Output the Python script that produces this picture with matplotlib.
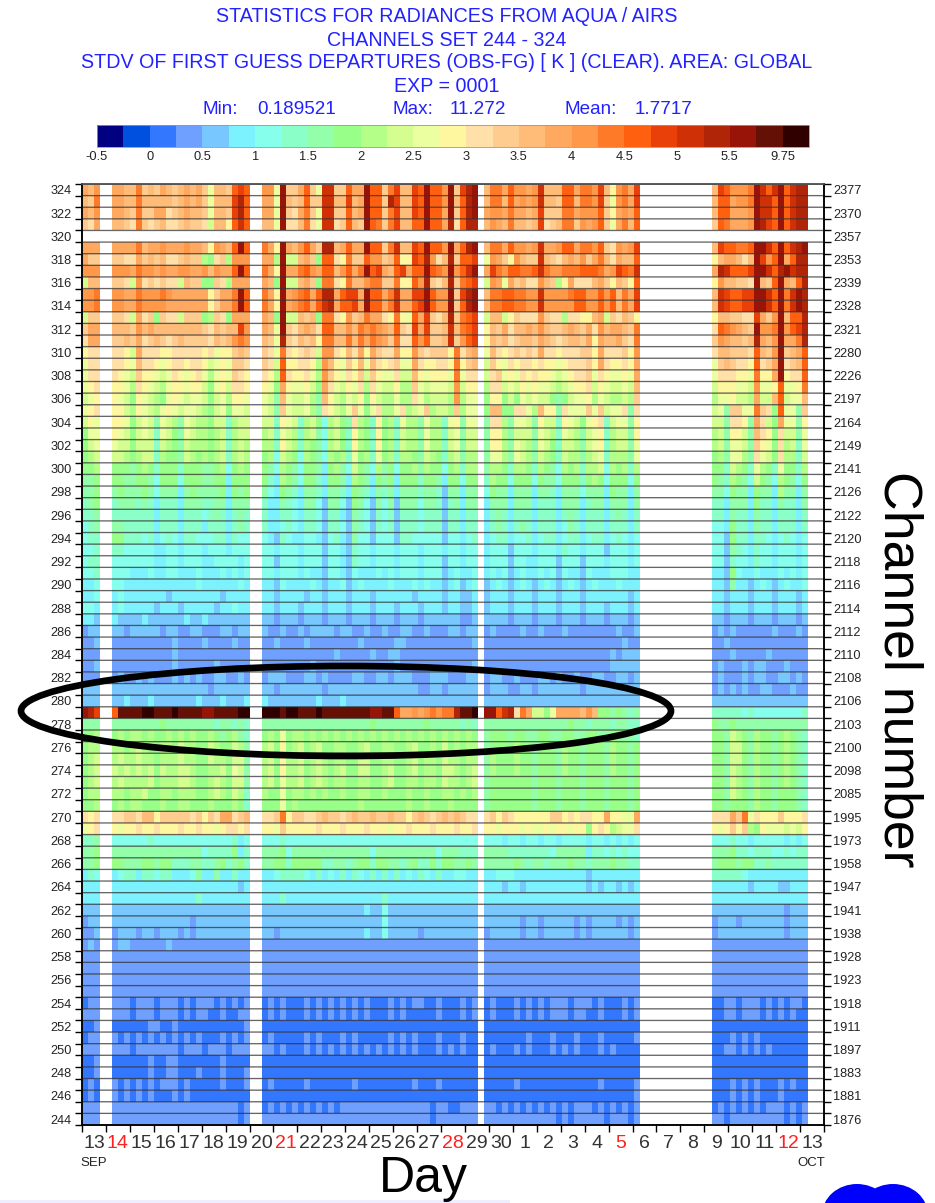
"""AIRS radiance statistics: STDV of first guess departures, channel vs time."""

import matplotlib

matplotlib.use("Agg")
import matplotlib.pyplot as plt
import numpy as np
from matplotlib.cm import ScalarMappable
from matplotlib.colors import BoundaryNorm, ListedColormap
from matplotlib.patches import Ellipse, Rectangle

plt.rcParams["font.family"] = ["Liberation Sans", "DejaVu Sans"]

TITLE_LINES = [
    "STATISTICS FOR RADIANCES FROM AQUA / AIRS",
    "CHANNELS SET 244 - 324",
    "STDV OF FIRST GUESS DEPARTURES (OBS-FG) [ K ] (CLEAR). AREA: GLOBAL",
    "EXP = 0001",
]
STATS = [("Min:", "0.189521"), ("Max:", "11.272"), ("Mean:", "1.7717")]

LEVEL_BOUNDS = [-0.5, -0.25, 0, 0.25, 0.5, 0.75, 1, 1.25, 1.5, 1.75, 2, 2.25, 2.5, 2.75,
                3, 3.25, 3.5, 3.75, 4, 4.25, 4.5, 4.75, 5, 5.25, 5.5, 5.75, 9.75, 12]
LEVEL_COLORS = ["#000080", "#0050e0", "#3377ff", "#70a0ff", "#78c8ff", "#7cf2ff", "#86ffec",
                "#8affc8", "#94ffaa", "#98ff88", "#b4ff88", "#d4ff90", "#ecffa0", "#fff6a0",
                "#ffe0a8", "#ffcc90", "#ffbc78", "#ffa860", "#ff9848", "#ff7a28", "#ff6010",
                "#e84008", "#d03005", "#b02408", "#981408", "#641005", "#300000"]
LEVEL_CODES = "0123456789abcdefghijklmnopq"
BAR_LABELS = ["-0.5", "0", "0.5", "1", "1.5", "2", "2.5", "3", "3.5", "4", "4.5", "5", "5.5", "9.75"]

DAY_LABELS = ["13", "14", "15", "16", "17", "18", "19", "20", "21", "22", "23", "24", "25", "26",
              "27", "28", "29", "30", "1", "2", "3", "4", "5", "6", "7", "8", "9", "10", "11",
              "12", "13"]
RED_DAYS = [1, 8, 15, 22, 29]

CHANNELS_LEFT = list(range(324, 243, -2))
WAVENUMBERS = [2377, 2370, 2357, 2353, 2339, 2328, 2321, 2280, 2226, 2197, 2164, 2149, 2141, 2126,
               2122, 2120, 2118, 2116, 2114, 2112, 2110, 2108, 2106, 2103, 2100, 2098, 2085, 1995,
               1973, 1958, 1947, 1941, 1938, 1928, 1923, 1918, 1911, 1897, 1883, 1881, 1876]

# одна строка на канал (324 -> 244), символ = класс цвета, "|" = пропуск в данных
ROWS_HIGH = [
    "hgi|hhggjfgfhgfghghfcggfklk|iicoffhkfcmmffkhhokkfjlgglkokkioflno|gjjhkiihimgggkkhjjilgdijhl|glkiiijomkmokmnn",
    "gfj|hhggjgggggfghghfcggglnk|hhcogfgkffmmgglghokkfnlgglkokkiogkno|gjjgkhihimggfkkgjjilfcijhl|gkkhiijommkokmnn",
    "hgi|hhgfjffhhefghggfcggflnk|hhcofehjfcmmffkghokkfjlgglkokkhofkno|hiihjhhghlfffjjhiiikfdhihk|gkkhhhiommkokmnn",
    "feh|ggfejfefgeefgffebggdkmk|ggcoeegjecmmefkgfokjfjlggkkokkhneknn|gihgjggfglefgjjfihikfchjgk|fkjhhhionlkokmnn",
    ".|.|.|.|.",
    "hhh|hhhhjghhihhhihhgdihgkok|jhdohgikhfnnghkhhokkfjmgglkokkiohkno|gjjhkiihimhhikkhjjikfeihil|glkkjjkoomkokmno",
    "hff|ffeehfgfgeefgffa9efaiii|hhaobbghf9kkedjffkiifgkddlkniegnfkkl|cihfdigffmgfeghgifhjgehggk|dghhgegolikohknn",
    "iii|iiihjiihihhiihhigihhkok|jhdohhjkihkkgikhjoklhgklhkkokjioikmo|hljikkjjkmjiijjjkkkjhilkjm|hnmkkkloomknomnn",
    "bgg|ffebiefefeebgff99feahhh|hg9obbghf9jjedjggijjffjddkinfegnfjkl|bihchfgeeigfadheeeghfdgfdk|diggffeogfkohgkn",
    "iij|iihhjiiijihhhhhhdfhhjok|jhdohijkhknnhkllhokkhjmhhllokiioflno|gjjkkjjiimiiiijkkiikikgjhl|gmlkklloomkojmon",
    "iij|iihhjiiiihhhhhhhdfhhjok|jhdohijkhkmnhkklhokkhjmhhklokiiofkno|gjjkkjjiimiiiiikkiikikgjhl|gmlkklloomkojmon",
    "bff|ffebhef9feebfff9afe9hhh|hg9obbgfg9jjedifgjhhedjdckhlfegnfjkl|bggbdfeeeifeeaeeddghbfegfd|dggffeelhfiogkkn",
    "fhh|gggfighggggggggfegfggli|hgcofeghgekkggigjijihgkfelhlffgmgjkl|dgfhegghgigffghgfheighhgfj|ekjihgfoiijoikln",
    "ehh|ffgfhefgfefgffffegfgiji|gfcnfegfgdjjggjgjhjihfjeekikffgmfikl|dgfgefggfhgfefggfhdhgghfej|fihggfgnhgiohhjn",
    "dee|eedbheeeddeeeeedecddfgf|fecjedefebiiedgehdhfeehddifefffdjegh|cgedefefeheedeeeffdheeefdi|eggfffekgfiofghk",
    "cee|eedcgeedcdeedeedbcdcffe|febkddeedaigdcfdgcgedefccheddeedjdfg|bfdcedeededdcdeeefdheddedh|cfgfeedkefhoefgk",
    "cee|edcbfddcbcedcdecacdcfed|edakeddecaifdcedfbfdccebbgdcdddcjcee|befcdcededdcbcdeefcedccdch|ceeeddcjddhodeek",
    "cde|ddcaedcbacddcddb9cdbeed|dc9hdccdb9hecbdceaecbbdaafcbcccbibdd|aeebcbdcdccbabcddebdcbbcbg|bdddccbiccdkccdj",
    "bcd|dcb9dcba9cdcbccb9bcaddc|cb8gcbbca8gdbacbd9dbaacaaecabbbaiacc|9dd9b9cbcbb989bccdacbaabaf|accdbbahbbgkbccg",
    "cde|ddbadcbacdcbccba9bc9ccb|cb8fcbbca8edbacfc9ceaaceabcfabbafacc|9gg99eecagdd8ecccfcfbcce8e|bc8ffccjfe9kcc8f",
]

ROWS_MIDDLE = [
    "bdc|ddc9bcb8cba8cbaa9bb7abb|bb7dcb7ab96ab98ea97d9a7caa8caa7cd8cc|8eea8ccb8dbb7dcb9cde7bcc8d|bb8eed8heb9hcc8d",
    "9cc|dcb9bcb7cb98cbaa9ab7abb|ab7cba7ab86ab97da97d9a7baa8caa7bc8bb|8dda8bbb8cba7cba8bcd7abb8d|ab8ddb8ged9ebb8c",
    "9bc|cbb9bbb7ba98baaa9ab7aba|aa7dba7a986ab97da97d9a7baa8caa7bc8bb|8dda8cba8cb97bba8bcd7abb8c|ab8ccb8fdc9eab7c",
    "9ab|bba9abb7a998ba9a9ab7aba|9a6ba96a986a9a7c9a7c9a7aa98ba97ab8aa|8cca8cba8ba97baa8abc7aaa8c|9a8cca8ecb9eaa7b",
    "99a|99989a979997999889a69a9|986a98699859a86b986a89699a8a9969a7aa|8aa97aa97a986a9a7aab6a9a7a|997ba97ca97c997a",
    "889|99889986999699988995999|975a98699759985a98598959997998599699|7a9969996988699979a9699969|987a986b986a9869",
    "889|89888986888589888895989|865987588758875987587858887887488588|69885888588758886888598858|88698859885a8858",
    "789|78887875777588877885888|755876588648864986486848886887478588|58885888577758885788588858|7758885977587758",
    "778|77777775777577767875787|755776577647754876476747776777477577|57875777577757875777578757|7758775877577757",
    "678|88777775777577757775787|755676577647764876476747776777477577|57875787577756875777577757|6659775877577757",
    "677|99777675676577666775766|654765566546754866466647766666466567|56775667567756775677567656|6649775776567656",
    "667|77666665566566656665666|665666566646654766566656665666566566|56664666566657665666466656|6648765766566656",
    "677|66666665566566655666656|664666566646654766566656665666466566|56664665566646664666566656|6647665766566656",
    "667|66655565566555655565656|665666565546654655565656665666456556|56564565565646554655566655|5549655655565656",
    "556|66555555555555655555565|554655556545564565555655565655456456|45654565456545654565556555|5548554565456556",
    "556|56555555545555555545555|554555545545554555455555545555455445|45554555455545554555555545|5545554555455545",
    "665|56555554555455555455655|554555455545554555455545554555455445|45554555455545554555455545|5545554555455545",
    "554|54444544444454454444444|443444344434443444344434443444444334|44443444344434443444344434|4434443444344434",
    "344|44344444344334433344344|433433434444344334334334433433344344|34333343343334333333334334|3434333333433343",
    "334|33333333334333343333433|334333343333333343333344333333333334|33333333333333333333333433|3343333333333333",
    "333|33333333334333333333333|333333333333433333433443333333333333|33333333333333333333343444|3334333334333333",
    "334|33333333334333333433333|333333334333333333333343333333333334|33333333333333333333344444|3433343443334333",
    "333|34334343334343433443343|344433344343333443344344433344433344|34433433344343343344334434|3433343443344343",
    "444|44444444444444443444444|443444444434444444444444443344344444|34443344344444443444444444|3434343344333433",
    "444|44544454444444544454445|544444444544454444444444444444444444|4|4",
    "onl|kppppqqpppqppppooppppqq|qqqpqqpppqppppppppooppkhhihijijjnppq|ookmnejhbb9chhhhgig9989878|7777767666666667",
    "888|88888888988888888788787|888888888888888888988888888988888787|88888888888888988788878877|9889888888888888",
    "99a|9a9aa9a99a9a9a99a989a87|9a9c9aa9a9a9a9a9a9a9a9a9a9a9a9a9a9a9|89998998899889988998899887|998ba98a9989a987",
    "9aa|aa9aba99aa9baa99ba99ba8|ab9d9ab9ab99aa99ab99aa99ab99a9b9a9aa|89999a9989998a9989998a9989|998bb98a9989a987",
    "9ab|abaabaa9aaabaa99baa9bb8|ab9daab9aba9aa99bb99aa99ab9aa9baa9aa|8a999a9989998a9989998a9989|998bb98a9989a987",
    "9ab|bababab9baabba99aab9cb8|ab9daab9aba9ab99bb99ab99ab9aa9bba9ab|8a999a9989998a9989998a9989|998ba98a9989a987",
    "9ab|abaaaab9aaabba99aba9bb8|ab9caab9aba9aa99aa99ab99aa9aa9baa9ab|89999999899989998999899989|998ba98a9989a987",
    "9aa|aa9aab99aa9aaa99aba9ba7|a99c9aa9a9a99a99aa99a999a99a99aa9a9a|89999999899989998999899989|998ba98a99899987",
    "99a|9a9aa999a99aa999a999a97|999c9a9999999999a9999999a99a999a9999|89999999899989998999899989|9989998a99899987",
    "ede|eeffeggdfffffefdfehhefg|eefjdffeefgffefgffgffgffdfgfefgfgfee|efdfeddddddffdedeeddhddcch|eeehfjcedddfddde",
    "cde|dcddeddedddeddeddcdeede|ddcfdddddedddedddedddcddedddedddedde|ddcdddcdccdcddcdd9dedabcce|dcdfdfa9dcccbcbd",
]

ROWS_LOW = [
    "778|66666676666666666666756|666766666666666666666666666666666666|66656656656656666566565656|6667665666665656",
    "889|88888888888888867777957|888968888888888888688888888886888777|88887777777688888577676766|8889776777667677",
    "889|99888998997778877897897|889979999977887899799887897797998898|88888987887888988788898877|8999899778777777",
    "576|56775776775556855855755|556777765756575765757575657657556655|55666555555555555455555555|7777765555555555",
    "5|55555555555555555555545|5|55545545555555555454554545|5555554555544555",
    "5|55555555555555755555555|555755555555555555557555555555555555|5|5",
    "4|4|444444444444444445446444444444444444|4|4444444444443444",
    "344|44444444444443444444444|444444444444444444446444444444444444|44444434434444434344443434|3444344444443444",
    "334|34443443444343444444444|443444444444444445446444443444444444|34444434434444434344444434|3444444444443444",
    "343|34433333343333333333333|3|3|3",
    "3|3|3|3|3",
    "3|3|3|3|3",
    "3|3|3|3|3",
    "3|3|3|3|3",
    "233|33323332333232333232323|232322232323232323222323233223222323|23222323232333233323222323|2233233323232332",
    "333|33323332333232332232233|232322232323232323222323222223222323|23222323232333233223222323|2233233323232322",
    "223|22222233223222222222223|2|2|2",
    "233|32323232323232322232323|232222232322232322222323232223222322|22222223222322232223222223|2223232322222222",
    "333|33323333333233323332333|332322232323232323232323232223232322|23222323222323232223232222|2233232323222222",
    "223|22222232233222222232222|2|2|2",
    "223|22222232233222322232223|2|2|2",
    "232|32323232333232222232223|232222232222222322222222232223222222|22222322222222222223222223|2223232322232322",
    "232|32323232223232222222222|2|22222222222222222222222223|2223232322232222",
    "333|33333333333333333333323|232323232323233333333333333323322333|33232323232323233323232323|2323232323332323",
    "333|33333333333333333333323|333333333333333333333333333323333333|33333333333323233333233323|3323333333332323",
]

SEGMENT_SIZES = [3, 23, 36, 26, 16]
GAP_SIZES = [2, 2, 1, 12, 3]
CELL_DAYS = 0.2506


def decode_rows(rows: list[str]) -> np.ndarray:
    """Строки классов -> матрица значений (NaN там, где нет данных)."""
    mids = [(a + b) / 2 for a, b in zip(LEVEL_BOUNDS[:-1], LEVEL_BOUNDS[1:])]
    table = {c: mids[i] for i, c in enumerate(LEVEL_CODES)}
    out = []
    for row in rows:
        cells = []
        for seg, size, gap in zip(row.split("|"), SEGMENT_SIZES, GAP_SIZES):
            seg = (seg + seg[-1] * size)[:size]
            cells.extend(table.get(c, np.nan) for c in seg)
            cells.extend([np.nan] * gap)
        out.append(cells)
    return np.array(out)


def px_rect(left: float, top: float, width: float, height: float) -> list[float]:
    return [left / 935, 1 - (top + height) / 1203, width / 935, height / 1203]


def main() -> None:
    fig = plt.figure(figsize=(9.35, 12.03), dpi=100)
    data = decode_rows(ROWS_HIGH + ROWS_MIDDLE + ROWS_LOW)
    cmap = ListedColormap(LEVEL_COLORS)
    cmap.set_bad("white")
    norm = BoundaryNorm(LEVEL_BOUNDS, cmap.N)

    ax = fig.add_axes(px_rect(82, 184, 742, 941))
    x_edges = np.arange(data.shape[1] + 1) * CELL_DAYS
    y_edges = np.arange(324.5, 243, -1)
    ax.pcolormesh(x_edges, y_edges, np.ma.masked_invalid(data), cmap=cmap, norm=norm)
    ax.set_xlim(0, 31)
    ax.set_ylim(243.5, 324.5)

    lines = ax.hlines(y_edges, 0, 31, color="#333333", alpha=0.75, linewidth=0.95, zorder=3)
    lines.set_snap(False)

    ax.set_xticks(np.arange(0, 32))
    ax.set_xticklabels([])
    ax.set_xticks(np.arange(31) + 0.5, minor=True)
    ax.set_xticklabels(DAY_LABELS, minor=True, fontsize=14, color="#333333")
    for i in RED_DAYS:
        ax.get_xticklabels(minor=True)[i].set_color("#ff2020")
    ax.tick_params(axis="x", which="major", length=5, width=1, direction="out")
    ax.tick_params(axis="x", which="minor", length=0, pad=7)

    ax.set_yticks(y_edges)
    ax.set_yticklabels([])
    ax.set_yticks(CHANNELS_LEFT, minor=True)
    ax.set_yticklabels(CHANNELS_LEFT, minor=True, fontsize=9.2, color="#222222")
    ax.tick_params(axis="y", which="major", length=5, width=1, direction="out")
    ax.tick_params(axis="y", which="minor", length=0, pad=7.5)

    ax2 = ax.twinx()
    ax2.set_ylim(ax.get_ylim())
    ax2.set_yticks(y_edges)
    ax2.set_yticklabels([])
    ax2.set_yticks(CHANNELS_LEFT, minor=True)
    ax2.set_yticklabels(WAVENUMBERS, minor=True, fontsize=9.2, color="#222222")
    ax2.tick_params(axis="y", which="major", length=5, width=1, direction="out")
    ax2.tick_params(axis="y", which="minor", length=0, pad=6.5)
    for a in (ax, ax2):
        for spine in a.spines.values():
            spine.set_linewidth(1.1)
        a.spines["top"].set_color("#555555")

    cax = fig.add_axes(px_rect(97, 125, 712, 22))
    bar = fig.colorbar(ScalarMappable(norm=norm, cmap=cmap), cax=cax, orientation="horizontal",
                       spacing="uniform", drawedges=False)
    bar.set_ticks(LEVEL_BOUNDS[:-1:2], labels=BAR_LABELS)
    bar.minorticks_off()
    cax.tick_params(length=0, labelsize=9.3, pad=3, labelcolor="#222222")
    bar.outline.set_edgecolor("#999999")
    bar.outline.set_linewidth(0.6)

    # подписи и пометки поверх графика, координаты в пикселях картинки
    over = fig.add_axes([0, 0, 1, 1], zorder=5)
    over.set_xlim(0, 935)
    over.set_ylim(1203, 0)
    over.axis("off")

    blue = "#2222ff"
    for text, y in zip(TITLE_LINES, [16, 40, 63, 87]):
        over.text(447, y, text, color=blue, fontsize=14.1, ha="center", va="center")
    for (name, value), x_name, x_value in zip(STATS, [203, 393, 564], [257, 450, 635]):
        over.text(x_name, 110, name, color=blue, fontsize=13.6, ha="left", va="center")
        over.text(x_value, 110, value, color=blue, fontsize=13.6, ha="left", va="center")

    over.text(94, 1163, "SEP", fontsize=9.5, ha="center", va="center", color="#222222")
    over.text(811, 1163, "OCT", fontsize=9.5, ha="center", va="center", color="#222222")
    over.text(423, 1192, "Day", fontsize=36, ha="center", va="baseline", color="black")
    over.text(898, 669, "Channel number", fontsize=38.5, rotation=270, ha="center", va="center",
              color="black")

    over.add_patch(Ellipse((346, 711), 650, 90, fill=False, edgecolor="black", linewidth=4.8))
    over.add_patch(Rectangle((0, 1200), 510, 3, facecolor="#eeeeff", edgecolor="none"))
    for cx in (857, 893):
        over.add_patch(Ellipse((cx, 1215), 70, 62, facecolor="#0000ff", edgecolor="none"))

    fig.savefig("out.png", dpi=100)
    plt.close(fig)


if __name__ == "__main__":
    main()
